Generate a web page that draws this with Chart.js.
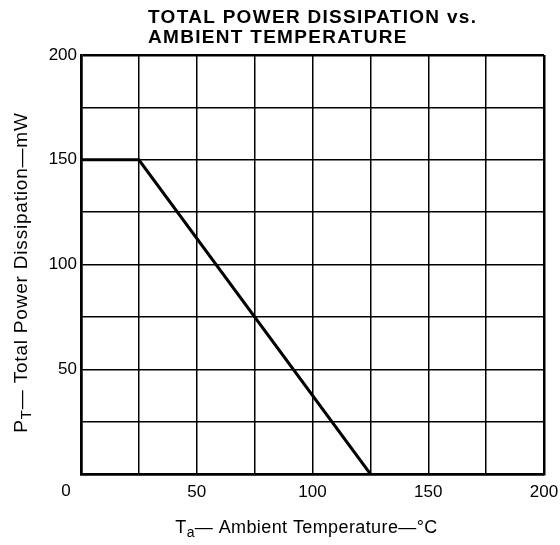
<!DOCTYPE html>
<html>
<head>
<meta charset="utf-8">
<script src="https://cdn.jsdelivr.net/npm/chart.js@4"></script>
<style>
  html, body { margin: 0; padding: 0; background: #fff; }
  #wrap { width: 560px; height: 545px; }
</style>
</head>
<body>
<div id="wrap"><canvas id="c" width="560" height="545"></canvas></div>
<script>
const temperatures = [0, 25, 125];
const powerDissipation = [150, 150, 0];
const xTickLabels = [50, 100, 150, 200];
const yTickLabels = [50, 100, 150, 200];
const titleLines = ["TOTAL POWER DISSIPATION vs.", "AMBIENT TEMPERATURE"];
const originLabel = "0";

const FONT = '"Liberation Sans", Arial, Helvetica, sans-serif';

const textPlugin = {
  id: 'textPlugin',
  afterDraw(chart) {
    const ctx = chart.ctx;
    const xs = chart.scales.x, ys = chart.scales.y;
    ctx.save();
    ctx.fillStyle = '#000';
    // Title
    ctx.font = 'bold 19px ' + FONT;
    ctx.textAlign = 'left';
    ctx.textBaseline = 'alphabetic';
    ctx.letterSpacing = '1.3px';
    ctx.fillText(titleLines[0], 148, 23);
    ctx.fillText(titleLines[1], 148, 43);
    ctx.letterSpacing = '0px';
    // origin label
    ctx.font = '17px ' + FONT;
    ctx.textAlign = 'center';
    ctx.textBaseline = 'middle';
    ctx.fillText(originLabel, xs.getPixelForValue(0) - 15, ys.bottom + 17);
    // X axis title with subscript
    const xParts = [["T", 0], ["a", 1], ["— Ambient Temperature—°C", 0]];
    drawParts(ctx, xParts, (xs.left + xs.right) / 2 - 6, 527, 18, 0.4);
    // Y axis title rotated
    ctx.translate(21, (ys.top + ys.bottom) / 2 + 8);
    ctx.rotate(-Math.PI / 2);
    const yParts = [["P", 0], ["T", 1], ["— Total Power Dissipation—mW", 0]];
    drawParts(ctx, yParts, 0, 0, 19, 0.8);
    ctx.restore();
  }
};

function drawParts(ctx, parts, cx, cy, size, spacing) {
  const big = size + 'px ' + FONT, small = Math.round(size * 0.78) + 'px ' + FONT;
  ctx.letterSpacing = spacing + 'px';
  let total = 0;
  const widths = parts.map(p => { ctx.font = p[1] ? small : big; const w = ctx.measureText(p[0]).width; total += w; return w; });
  let x = cx - total / 2;
  ctx.textAlign = 'left';
  ctx.textBaseline = 'alphabetic';
  parts.forEach((p, i) => {
    ctx.font = p[1] ? small : big;
    ctx.fillText(p[0], x, cy + 6 + (p[1] ? 4 : 0));
    x += widths[i];
  });
  ctx.letterSpacing = '0px';
}

new Chart(document.getElementById('c'), {
  type: 'line',
  data: {
    datasets: [{
      data: temperatures.map((t, i) => ({ x: t, y: powerDissipation[i] })),
      borderColor: '#000',
      borderWidth: 3,
      pointRadius: 0,
      fill: false,
      tension: 0
    }]
  },
  options: {
    responsive: false,
    animation: false,
    devicePixelRatio: 1,
    layout: { padding: { top: 55, right: 0, left: 0, bottom: 0 } },
    plugins: { legend: { display: false }, tooltip: { enabled: false }, title: { display: false } },
    scales: {
      x: {
        type: 'linear', min: 0, max: 200,
        afterFit(s) { s.height = 71; s.paddingRight = 16; },
        ticks: {
          stepSize: 25, padding: 8, color: '#000', font: { size: 17, family: FONT },
          maxRotation: 0, autoSkip: false,
          callback: v => xTickLabels.includes(v) ? String(v) : ''
        },
        grid: {
          color: '#000', drawTicks: false,
          lineWidth: c => (c.tick && (c.tick.value === 200 || c.tick.value === 0)) ? 2.5 : 1.5
        },
        border: { color: '#000', width: 2.5 }
      },
      y: {
        type: 'linear', min: 0, max: 200,
        afterFit(s) { s.width = 81; },
        ticks: {
          stepSize: 25, padding: 4, color: '#000', font: { size: 17, family: FONT },
          autoSkip: false,
          callback: v => yTickLabels.includes(v) ? String(v) : ''
        },
        grid: {
          color: '#000', drawTicks: false,
          lineWidth: c => (c.tick && (c.tick.value === 200 || c.tick.value === 0)) ? 2.5 : 1.5
        },
        border: { color: '#000', width: 2.5 }
      }
    }
  },
  plugins: [textPlugin]
});
</script>
</body>
</html>
